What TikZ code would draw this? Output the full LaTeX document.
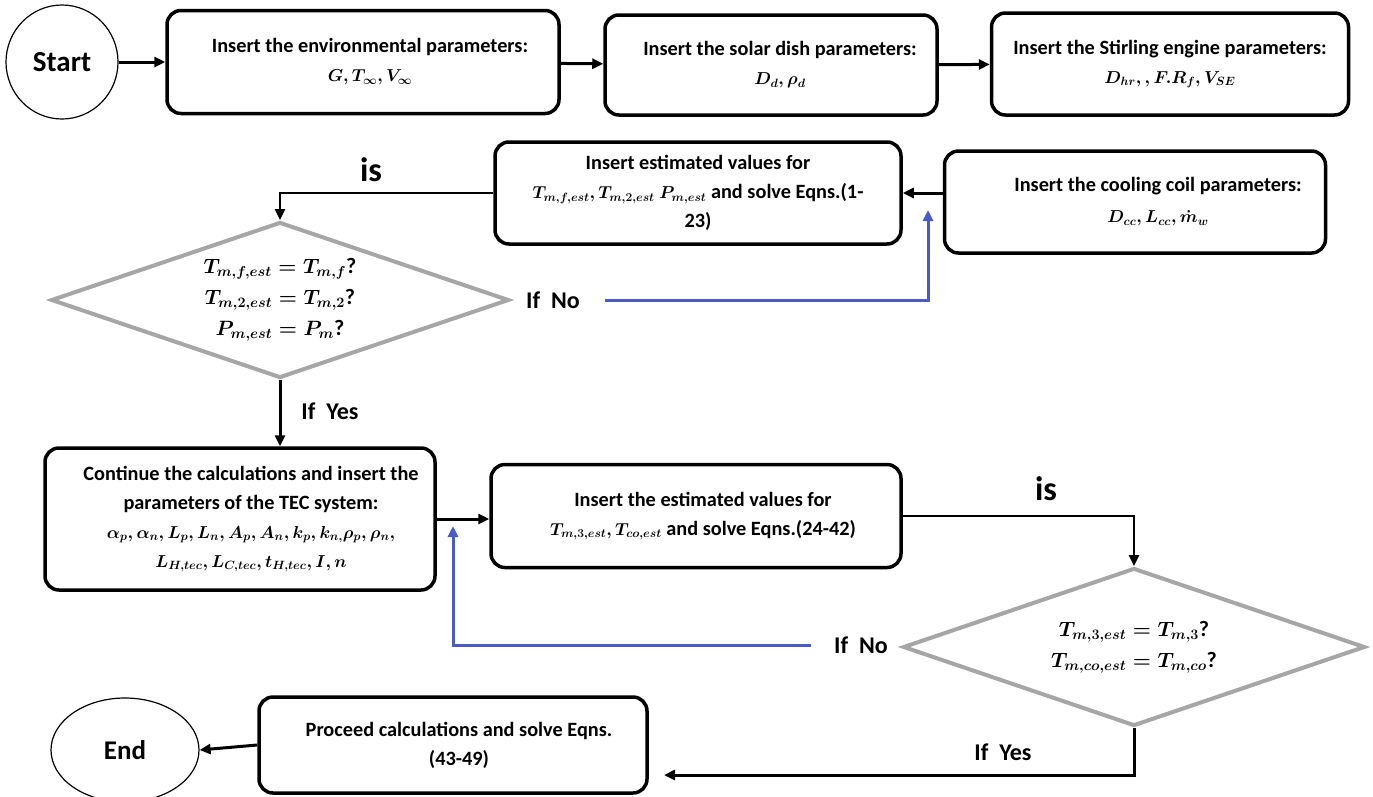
\documentclass[tikz,border=0pt]{standalone}
\usepackage{fontspec}
\setmainfont{Carlito}
\usetikzlibrary{arrows.meta, shapes.geometric}
\definecolor{loopblue}{HTML}{4A5AC8}
\definecolor{decgray}{HTML}{A6A6A6}
\DeclareMathSizes{20.3}{16}{12.5}{10}
\newcommand\boxfont{\fontsize{20.3}{29}\selectfont\bfseries\boldmath}
\newcommand\decfont{\fontsize{22}{31}\selectfont\bfseries\boldmath}

\begin{document}
\begin{tikzpicture}[x=1pt, y=-1pt,
        box/.style={rectangle, draw=black, line width=3.5pt, rounded corners=14pt,
                    align=center, font=\boxfont, inner sep=0pt},
        term/.style={ellipse, draw=black, line width=1.2pt, inner sep=0pt},
        dec/.style={diamond, aspect=2.9, draw=decgray, line width=4pt, align=center,
                    font=\decfont, inner sep=0pt},
        lbl/.style={font=\fontsize{24}{26}\selectfont\bfseries},
        islbl/.style={font=\fontsize{34}{38}\selectfont\bfseries},
        arr/.style={-{Triangle[length=11pt, width=10pt]}, line width=3pt},
        fb/.style={-{Triangle[length=11pt, width=10pt]}, draw=loopblue, line width=3pt}
      ]
        \useasboundingbox (0,0) rectangle (1373,796);
        % top row
        \node[term, minimum width=112pt, minimum height=114pt,
              font=\fontsize{29}{32}\selectfont\bfseries] (start) at (62,62) {Start};
        \node[box, minimum width=392pt, minimum height=103pt] (b1) at (363,62)
          {\hspace*{14pt}Insert the environmental parameters:\\ \hspace*{14pt}$G, T_\infty, V_\infty$};
        \node[box, minimum width=332pt, minimum height=100pt] (b2) at (771,65)
          {\hspace*{18pt}Insert the solar dish parameters:\\ \hspace*{18pt}$D_d, \rho_d$};
        \node[box, minimum width=357pt, minimum height=102pt] (b3) at (1170,64)
          {Insert the Stirling engine parameters:\\ $D_{hr},, F.R_f, V_{SE}$};
        % second row
        \node[box, minimum width=406pt, minimum height=102pt] (b4) at (698,193)
          {Insert estimated values for\\ $T_{m,f,est}, T_{m,2,est}\ P_{m,est}$ and solve Eqns.(1-\\ 23)};
        \node[box, minimum width=381pt, minimum height=102pt] (b5) at (1135,202)
          {\hspace*{46pt}Insert the cooling coil parameters:\\[2pt] \hspace*{46pt}$D_{cc}, L_{cc}, \dot m_w$};
        \node[dec, minimum width=458pt, minimum height=156pt] (d1) at (280,300)
          {$T_{m,f,est} = T_{m,f}$?\\ $T_{m,2,est} = T_{m,2}$?\\ $P_{m,est} = P_m$?};
        % third row
        \node[box, minimum width=390pt, minimum height=142pt] (b6) at (240,519)
          {\hspace*{22pt}Continue the calculations and insert the\\
           \hspace*{22pt}parameters of the TEC system:\\
           \hspace*{22pt}$\alpha_p, \alpha_n, L_p, L_n, A_p, A_n, k_p, k_{n,} \rho_p, \rho_n,$\\
           \hspace*{22pt}$L_{H,tec}, L_{C,tec}, t_{H,tec}, I, n$};
        \node[box, minimum width=410pt, minimum height=103pt] (b7) at (696,516)
          {\hspace*{14pt}Insert the estimated values for\\
           \hspace*{14pt}$T_{m,3,est}, T_{co,est}$ and solve Eqns.(24-42)};
        \node[dec, minimum width=462pt, minimum height=158pt] (d2) at (1134,647)
          {$T_{m,3,est} = T_{m,3}$?\\ $T_{m,co,est} = T_{m,co}$?};
        % last row
        \node[box, minimum width=388pt, minimum height=96pt] (b8) at (453,745)
          {\hspace*{12pt}Proceed calculations and solve Eqns.\\ \hspace*{12pt}(43-49)};
        \node[term, minimum width=148pt, minimum height=104pt,
              font=\fontsize{27}{30}\selectfont\bfseries] (end) at (125,750) {End};
        % labels
        \node[islbl] (is1) at (371,170) {is};
        \node[islbl] (is2) at (1046,489) {is};
        \node[lbl] (no1) at (553,300) {If\ \ No};
        \node[lbl] (no2) at (861,645) {If\ \ No};
        \node[lbl] (yes1) at (330,411) {If\ \ Yes};
        \node[lbl] (yes2) at (1003,752) {If\ \ Yes};
        \coordinate (up1) at (928,210);
        \coordinate (up2) at (453,526);
        \coordinate (back) at (664,775);
        % connectors
        \draw[arr] (start) -- (b1);
        \draw[arr] (b1) -- (b2);
        \draw[arr] (b2) -- (b3);
        \draw[arr] (b5.west |- b4.east) -- (b4.east);
        \draw[arr, line width=2.5pt] (b4.west) -| (d1.north);
        \draw[fb, shorten <=22pt] (no1.east) -| (up1);
        \draw[arr] (d1.south) -- (d1.south |- b6.north);
        \draw[arr] (b6.east) -- (b6.east -| b7.west);
        \draw[arr, line width=2.5pt] (b7.east) -| (d2.north);
        \draw[fb, shorten <=20pt] (no2.west) -| (up2);
        \draw[arr] (d2.south) |- (back);
        \draw[arr] (b8.west) -- (end.east);
      \end{tikzpicture}
\end{document}
